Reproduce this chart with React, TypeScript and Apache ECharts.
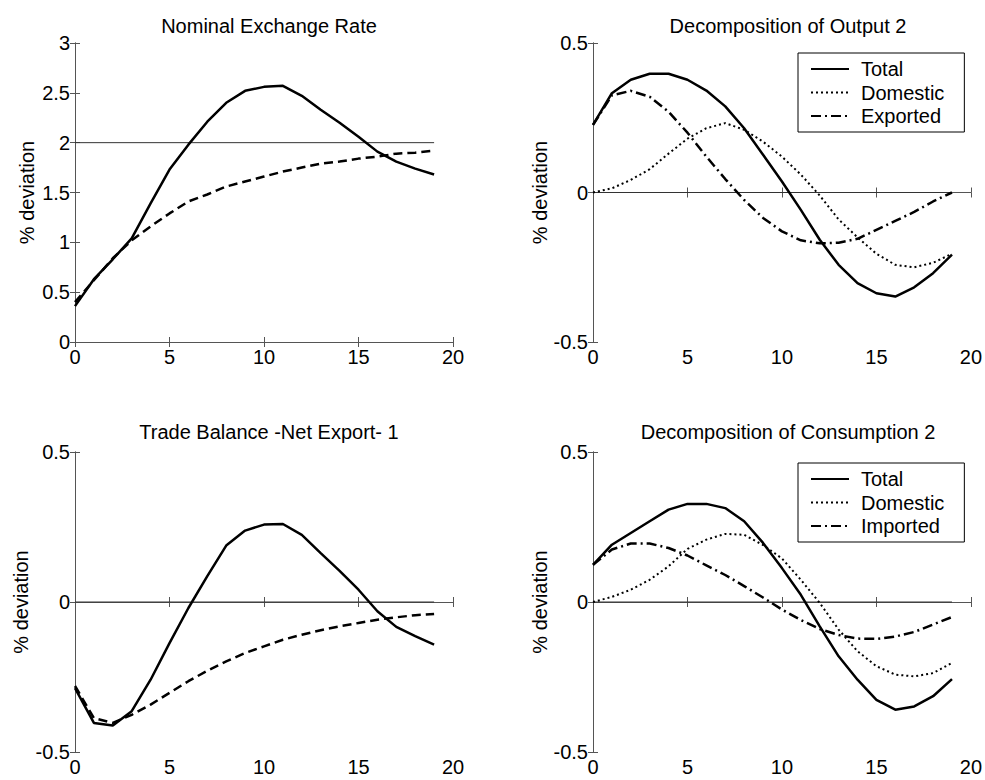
import React, { useEffect, useRef } from "react";
import * as echarts from "echarts";

// Horizon (quarters)
const periods = [0, 1, 2, 3, 4, 5, 6, 7, 8, 9, 10, 11, 12, 13, 14, 15, 16, 17, 18, 19];

// Panel 1: Nominal Exchange Rate
const nerSolid = [0.36, 0.63, 0.83, 1.04, 1.39, 1.73, 1.98, 2.21, 2.4, 2.52, 2.56, 2.57, 2.47, 2.33, 2.2, 2.06, 1.91, 1.81, 1.74, 1.68];
const nerDashed = [0.4, 0.62, 0.84, 1.02, 1.16, 1.29, 1.41, 1.48, 1.56, 1.61, 1.66, 1.71, 1.75, 1.79, 1.81, 1.84, 1.86, 1.89, 1.9, 1.92];
const nerRefLevel = 2;

// Panel 2: Decomposition of Output 2
const outTotal = [0.226, 0.332, 0.377, 0.397, 0.397, 0.377, 0.341, 0.288, 0.215, 0.126, 0.037, -0.058, -0.158, -0.242, -0.303, -0.337, -0.348, -0.317, -0.27, -0.208];
const outDomestic = [0, 0.014, 0.042, 0.078, 0.13, 0.18, 0.215, 0.232, 0.21, 0.17, 0.12, 0.06, -0.01, -0.09, -0.15, -0.205, -0.242, -0.25, -0.235, -0.205];
const outExported = [0.226, 0.325, 0.34, 0.32, 0.27, 0.2, 0.12, 0.045, -0.025, -0.085, -0.13, -0.16, -0.17, -0.168, -0.155, -0.125, -0.095, -0.065, -0.03, 0.0];

// Panel 3: Trade Balance -Net Export- 1
const tbSolid = [-0.287, -0.403, -0.412, -0.364, -0.259, -0.137, -0.02, 0.086, 0.188, 0.238, 0.258, 0.26, 0.224, 0.163, 0.104, 0.041, -0.031, -0.083, -0.114, -0.142];
const tbDashed = [-0.28, -0.387, -0.403, -0.376, -0.342, -0.303, -0.264, -0.229, -0.198, -0.17, -0.148, -0.126, -0.109, -0.094, -0.081, -0.07, -0.059, -0.051, -0.044, -0.04];

// Panel 4: Decomposition of Consumption 2
const conTotal = [0.124, 0.191, 0.23, 0.269, 0.308, 0.327, 0.327, 0.313, 0.269, 0.197, 0.113, 0.024, -0.081, -0.181, -0.259, -0.326, -0.359, -0.348, -0.314, -0.257];
const conDomestic = [0, 0.017, 0.041, 0.074, 0.119, 0.177, 0.208, 0.227, 0.224, 0.19, 0.145, 0.074, -0.003, -0.092, -0.164, -0.214, -0.242, -0.248, -0.237, -0.203];
const conImported = [0.124, 0.175, 0.195, 0.195, 0.18, 0.155, 0.122, 0.09, 0.053, 0.015, -0.025, -0.06, -0.09, -0.11, -0.122, -0.123, -0.115, -0.1, -0.075, -0.05];
const zeroLevel = 0;

const titles = ["Nominal Exchange Rate", "Decomposition of Output 2", "Trade Balance -Net Export- 1", "Decomposition of Consumption 2"];
const yRanges = [
  { min: 0, max: 3 },
  { min: -0.5, max: 0.5 },
  { min: -0.5, max: 0.5 },
  { min: -0.5, max: 0.5 },
];
const yLabel = "% deviation";

const FONT = "'Liberation Sans', Arial, Helvetica, sans-serif";
const FRAME = "#555";

const pairs = (arr: number[]) => periods.map((p, i) => [p, arr[i]]);
const refLine = (v: number) => [
  [periods[0], v],
  [periods[periods.length - 1], v],
];

export default function App() {
  const ref = useRef<HTMLDivElement>(null);

  useEffect(() => {
    if (!ref.current) return;
    const chart = echarts.init(ref.current, null, { renderer: "svg" });

    const grids = [
      { left: 75, top: 43, width: 378, height: 299 },
      { left: 593, top: 43, width: 380, height: 299 },
      { left: 75, top: 452, width: 378, height: 300 },
      { left: 593, top: 452, width: 380, height: 300 },
    ];
    const nameGaps = [38, 42, 44, 42];

    const xAxes: any[] = [];
    const yAxes: any[] = [];
    grids.forEach((g, i) => {
      xAxes.push({
        type: "value",
        gridIndex: i,
        min: 0,
        max: 20,
        interval: 5,
        position: "bottom",
        axisLine: { show: true, lineStyle: { color: FRAME, width: 1 } },
        axisTick: { show: true, inside: true, length: 5, lineStyle: { color: FRAME } },
        axisLabel: { color: "#000", fontSize: 20, fontFamily: FONT, margin: 5 },
        splitLine: { show: false },
      });
      yAxes.push({
        type: "value",
        gridIndex: i,
        min: yRanges[i].min,
        max: yRanges[i].max,
        interval: 0.5,
        position: "left",
        name: yLabel,
        nameLocation: "middle",
        nameGap: nameGaps[i],
        nameRotate: 90,
        nameTextStyle: { color: "#000", fontSize: 20, fontFamily: FONT },
        axisLine: { show: true, lineStyle: { color: FRAME, width: 1 } },
        axisTick: { show: true, inside: true, length: 5, lineStyle: { color: FRAME } },
        axisLabel: { color: "#000", fontSize: 20, fontFamily: FONT, margin: 5 },
        splitLine: { show: false },
      });
    });
    grids.forEach((g, i) => {
      xAxes.push({
        type: "value",
        gridIndex: i,
        min: 0,
        max: 20,
        interval: 5,
        position: "top",
        axisLine: { show: true, lineStyle: { color: FRAME, width: 1 } },
        axisTick: { show: true, inside: true, length: 5, lineStyle: { color: FRAME } },
        axisLabel: { show: false },
        splitLine: { show: false },
      });
      yAxes.push({
        type: "value",
        gridIndex: i,
        min: yRanges[i].min,
        max: yRanges[i].max,
        interval: 0.5,
        position: "right",
        axisLine: { show: true, lineStyle: { color: FRAME, width: 1 } },
        axisTick: { show: true, inside: true, length: 5, lineStyle: { color: FRAME } },
        axisLabel: { show: false },
        splitLine: { show: false },
      });
    });

    const solid = { color: "#000", width: 2.5, type: "solid" as const };
    const dashed = { color: "#000", width: 2.5, type: [9, 5] };
    const dotted = { color: "#000", width: 2, type: [2, 3] };
    const dashDot = { color: "#000", width: 2.5, type: [10, 4, 2, 4] };
    const refStyle = { color: "#333", width: 1, type: "solid" as const };

    const mk = (name: string, data: any[], idx: number, lineStyle: any, z = 3) => ({
      type: "line",
      name,
      data,
      xAxisIndex: idx,
      yAxisIndex: idx,
      showSymbol: false,
      symbol: "none",
      lineStyle,
      itemStyle: { color: "#000" },
      z,
      silent: true,
    });

    const series = [
      mk("ref1", refLine(nerRefLevel), 0, refStyle, 2),
      mk("NER", pairs(nerSolid), 0, solid),
      mk("NER benchmark", pairs(nerDashed), 0, dashed),
      mk("ref2", refLine(zeroLevel), 1, refStyle, 2),
      mk("Total", pairs(outTotal), 1, solid),
      mk("Domestic", pairs(outDomestic), 1, dotted),
      mk("Exported", pairs(outExported), 1, dashDot),
      mk("ref3", refLine(zeroLevel), 2, refStyle, 2),
      mk("TB", pairs(tbSolid), 2, solid),
      mk("TB benchmark", pairs(tbDashed), 2, dashed),
      mk("ref4", refLine(zeroLevel), 3, refStyle, 2),
      mk("Total", pairs(conTotal), 3, solid),
      mk("Domestic", pairs(conDomestic), 3, dotted),
      mk("Imported", pairs(conImported), 3, dashDot),
    ];

    const titleTops = [11, 11, 417, 417];
    const titleCenters = [264, 783, 264, 783];

    const legendBase = {
      orient: "vertical",
      left: 798,
      backgroundColor: "#fff",
      borderColor: "#000",
      borderWidth: 1,
      borderRadius: 0,
      padding: [6, 20, 6, 12],
      itemWidth: 38,
      itemHeight: 14,
      itemGap: 3.5,
      selectedMode: false,
      itemStyle: { opacity: 0 },
      textStyle: { color: "#000", fontSize: 20, fontFamily: FONT, padding: [0, 0, 0, 7] },
    };

    chart.setOption({
      animation: false,
      backgroundColor: "#fff",
      textStyle: { fontFamily: FONT },
      title: titles.map((t, i) => ({
        text: t,
        left: titleCenters[i],
        top: titleTops[i],
        textAlign: "center",
        textStyle: { color: "#000", fontSize: 20, fontWeight: "normal", fontFamily: FONT },
      })),
      grid: grids,
      xAxis: xAxes,
      yAxis: yAxes,
      legend: [
        { ...legendBase, top: 53, data: ["Total", "Domestic", "Exported"] },
        { ...legendBase, top: 463, data: ["Total", "Domestic", "Imported"] },
      ],
      series,
    });

    return () => chart.dispose();
  }, []);

  return (
    <div
      ref={ref}
      style={{ position: "fixed", left: 0, top: 0, width: 985, height: 780, background: "#fff" }}
    />
  );
}
